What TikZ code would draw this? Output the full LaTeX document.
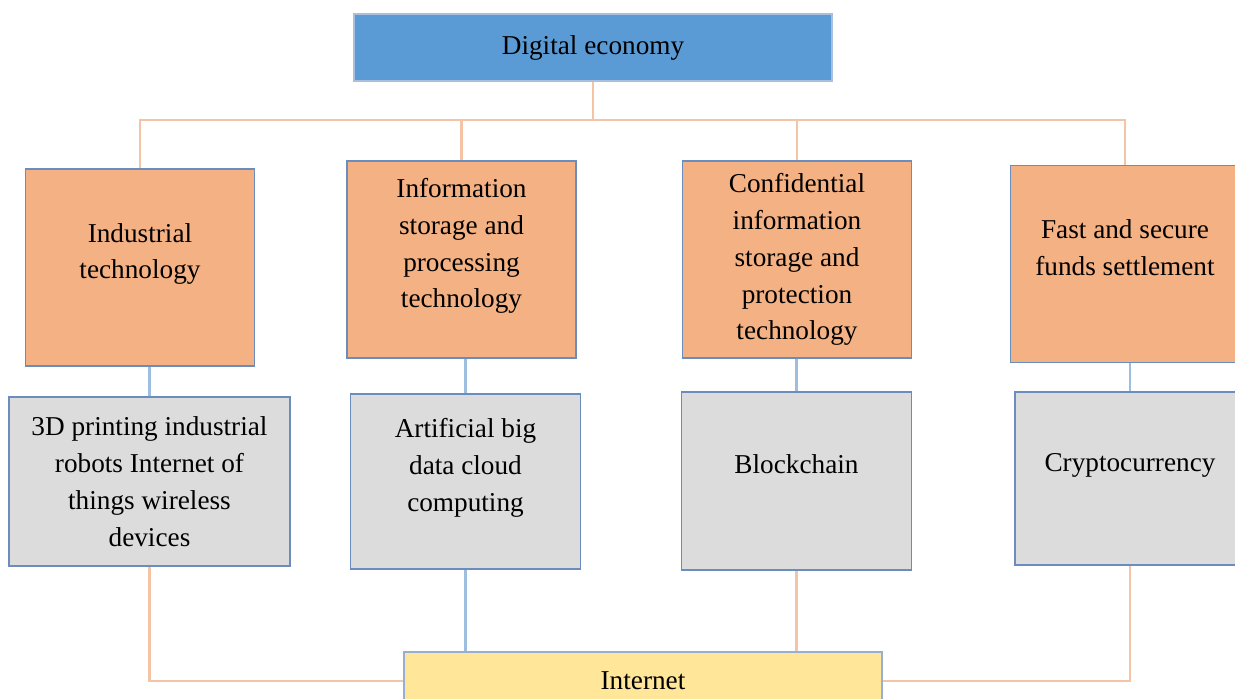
\documentclass[tikz,border=0pt]{standalone}
\usepackage{fontspec}
\setmainfont{Liberation Serif}
\definecolor{headblue}{HTML}{5B9BD5}
\definecolor{headedge}{HTML}{A8C0DC}
\definecolor{techorange}{HTML}{F4B183}
\definecolor{boxedge}{HTML}{6A8DBE}
\definecolor{toolgray}{HTML}{DCDCDC}
\definecolor{netyellow}{HTML}{FFE699}
\definecolor{warmlink}{HTML}{F4C4A4}
\definecolor{coollink}{HTML}{9EBEDF}
\usetikzlibrary{positioning}
\newcommand{\padbelow}{\rule[-0.66cm]{0pt}{0.66cm}}

\begin{document}
\begin{tikzpicture}[
  font=\fontsize{15.5}{21}\selectfont,
  headbox/.style={rectangle, minimum width=9.56cm, minimum height=1.34cm, inner sep=2pt, draw=headedge, line width=1pt, fill=headblue},
  techbox/.style={rectangle, minimum width=4.58cm, minimum height=3.94cm, inner sep=2pt, align=center, draw=boxedge, line width=1pt, fill=techorange},
  toolbox/.style={rectangle, minimum width=4.6cm, minimum height=3.5cm, inner sep=2pt, align=center, draw=boxedge, line width=1pt, fill=toolgray},
  basebox/.style={rectangle, minimum width=9.56cm, minimum height=1.16cm, inner sep=2pt, draw=boxedge!70, line width=1pt, fill=netyellow},
  warm/.style={draw=warmlink, line width=1.2pt},
  cool/.style={draw=coollink, line width=1.2pt}
]
  \useasboundingbox (0,0) rectangle (24.7,-13.96);

  \node[headbox] (econ) at (11.86,-0.95) {Digital economy};

  \node[techbox] (indus)    at (2.8,-5.35)   {Industrial\\technology\padbelow};
  \node[techbox] (infstore) at (9.23,-5.19)  {Information\\storage and\\processing\\technology\padbelow};
  \node[techbox] (confid)   at (15.94,-5.19) {Confidential\\information\\storage and\\protection\\technology};
  \node[techbox] (funds)    at (22.5,-5.28)  {Fast and secure\\funds settlement\padbelow};

  \node[toolbox, minimum width=5.62cm, minimum height=3.38cm] (iot) at (2.99,-9.63) {3D printing industrial\\robots Internet of\\things wireless\\devices};
  \node[toolbox] (aidata) at (9.31,-9.63)  {Artificial big\\data cloud\\computing\padbelow};
  \node[toolbox, minimum height=3.56cm] (chain) at (15.93,-9.62) {Blockchain\padbelow};
  \node[toolbox, minimum height=3.46cm] (crypto) at (22.6,-9.57) {Cryptocurrency\padbelow};

  \node[basebox] (net) at (12.86,-13.62) {Internet};

  % top tree
  \coordinate (fork) at (11.86,-2.4);
  \draw[warm] (econ.south) -- (fork);
  \draw[warm] (indus.north) |- (fork) -| (funds.north);
  \draw[warm] (infstore.north) -- (infstore.north |- fork);
  \draw[warm] (confid.north) -- (confid.north |- fork);

  % technology to tools
  \draw[cool] (iot.north) -- (iot.north |- indus.south);
  \draw[cool] (aidata.north) -- (aidata.north |- infstore.south);
  \draw[cool] (chain.north) -- (chain.north |- confid.south);
  \draw[cool] (crypto.north) -- (crypto.north |- funds.south);

  % tools to internet
  \draw[warm] (iot.south) |- (net.west);
  \draw[cool] (aidata.south) -- (aidata.south |- net.north);
  \draw[warm] (chain.south) -- (chain.south |- net.north);
  \draw[warm] (crypto.south) |- (net.east);
\end{tikzpicture}
\end{document}
